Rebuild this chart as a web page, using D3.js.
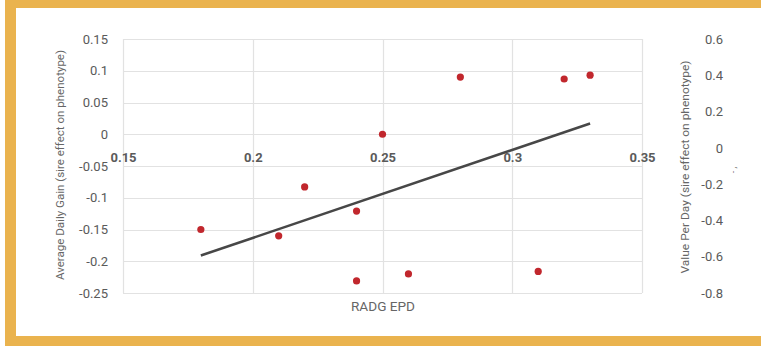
<!DOCTYPE html>
<html>
<head>
<meta charset="utf-8">
<script src="https://cdn.jsdelivr.net/npm/d3@7"></script>
<style>
  html, body { margin: 0; padding: 0; background: #fff; }
  svg { display: block; font-family: Roboto, "Noto Sans", sans-serif; }
</style>
</head>
<body>
<svg id="chart"></svg>
<script>
// RADG EPD vs. average daily gain (sire effect)
const radgEpd = [0.18, 0.21, 0.22, 0.24, 0.24, 0.25, 0.26, 0.28, 0.31, 0.32, 0.33];
const adg     = [-0.15, -0.16, -0.083, -0.121, -0.231, 0.0, -0.22, 0.09, -0.216, 0.087, 0.093];

// trendline end points
const trendX = [0.18, 0.33];
const trendY = [-0.191, 0.017];

const xTicks  = [0.15, 0.2, 0.25, 0.3, 0.35];
const yTicks  = [0.15, 0.1, 0.05, 0, -0.05, -0.1, -0.15, -0.2, -0.25];
const y2Ticks = [0.6, 0.4, 0.2, 0, -0.2, -0.4, -0.6, -0.8];

const W = 761, H = 346;
const svg = d3.select("#chart").attr("width", W).attr("height", H);

// plain hyphen for negatives, like the original
const fmt = d => String(d);

// orange frame (open on the right)
const frame = "#EAB34E";
svg.append("rect").attr("x", 0).attr("y", 0).attr("width", W).attr("height", H).attr("fill", "#fff");
svg.append("rect").attr("x", 5).attr("y", 0).attr("width", W - 5).attr("height", 8).attr("fill", frame);
svg.append("rect").attr("x", 5).attr("y", 0).attr("width", 11).attr("height", H).attr("fill", frame);
svg.append("rect").attr("x", 5).attr("y", 336).attr("width", W - 5).attr("height", 10).attr("fill", frame);

const plotL = 123, plotR = 642, plotT = 39, plotB = 293;

const x  = d3.scaleLinear().domain([0.15, 0.35]).range([plotL, plotR]);
const y  = d3.scaleLinear().domain([-0.25, 0.15]).range([plotB, plotT]);
const y2 = d3.scaleLinear().domain([-0.8, 0.6]).range([plotB, plotT]);

const g = svg.append("g");

// gridlines
g.append("g").selectAll("line").data(yTicks).join("line")
    .attr("x1", plotL).attr("x2", plotR)
    .attr("y1", d => Math.round(y(d)) + 0.5).attr("y2", d => Math.round(y(d)) + 0.5)
    .attr("stroke", "#e2e2e2").attr("stroke-width", 1.2);
g.append("g").selectAll("line").data(xTicks).join("line")
    .attr("y1", plotT).attr("y2", plotB)
    .attr("x1", d => Math.round(x(d)) + 0.5).attr("x2", d => Math.round(x(d)) + 0.5)
    .attr("stroke", "#e2e2e2").attr("stroke-width", 1.2);

// x axis sits on y = 0
const xAxis = g.append("g")
    .attr("transform", `translate(0,${y(0)})`)
    .call(d3.axisBottom(x).tickValues(xTicks).tickSize(0).tickPadding(19).tickFormat(fmt));
xAxis.select(".domain").remove();
xAxis.selectAll("text")
    .attr("font-size", 13).attr("font-weight", "bold").attr("fill", "#5a5a5a")
    .attr("font-family", "Roboto, sans-serif");

const yAxis = g.append("g")
    .attr("transform", `translate(${plotL},0)`)
    .call(d3.axisLeft(y).tickValues(yTicks).tickSize(0).tickPadding(15).tickFormat(fmt));
yAxis.select(".domain").remove();
yAxis.selectAll("text")
    .attr("font-size", 13).attr("fill", "#5a5a5a").attr("font-family", "Roboto, sans-serif");

const y2Axis = g.append("g")
    .attr("transform", `translate(${plotR},0)`)
    .call(d3.axisRight(y2).tickValues(y2Ticks).tickSize(0).tickFormat(fmt));
y2Axis.select(".domain").remove();
y2Axis.selectAll("text")
    .attr("x", 81).attr("text-anchor", "end")
    .attr("font-size", 13).attr("fill", "#5a5a5a").attr("font-family", "Roboto, sans-serif");

// axis titles
svg.append("text")
    .attr("transform", "translate(64,165) rotate(-90)")
    .attr("text-anchor", "middle")
    .attr("font-size", 10.5).attr("fill", "#666")
    .attr("textLength", 230).attr("lengthAdjust", "spacingAndGlyphs")
    .text("Average Daily Gain (sire effect on phenotype)");

svg.append("text")
    .attr("transform", "translate(689,167) rotate(-90)")
    .attr("text-anchor", "middle")
    .attr("font-size", 10.5).attr("fill", "#666")
    .attr("textLength", 213).attr("lengthAdjust", "spacingAndGlyphs")
    .text("Value Per Day (sire effect on phenotype)");

svg.append("text")
    .attr("x", 383).attr("y", 311)
    .attr("text-anchor", "middle")
    .attr("font-size", 13).attr("fill", "#666")
    .attr("textLength", 64).attr("lengthAdjust", "spacingAndGlyphs")
    .text("RADG EPD");

// clipped legend fragment at the right edge
svg.append("text")
    .attr("transform", "translate(736,170) rotate(-90)")
    .attr("text-anchor", "middle")
    .attr("font-size", 9).attr("fill", "#777")
    .text("- ,");

// trendline
g.append("line")
    .attr("x1", x(trendX[0])).attr("y1", y(trendY[0]))
    .attr("x2", x(trendX[1])).attr("y2", y(trendY[1]))
    .attr("stroke", "#474747").attr("stroke-width", 2.5);

// points
g.append("g").selectAll("circle").data(radgEpd.map((v, i) => [v, adg[i]])).join("circle")
    .attr("cx", d => x(d[0]))
    .attr("cy", d => y(d[1]))
    .attr("r", 3.6)
    .attr("fill", "#C1272D");
</script>
</body>
</html>
